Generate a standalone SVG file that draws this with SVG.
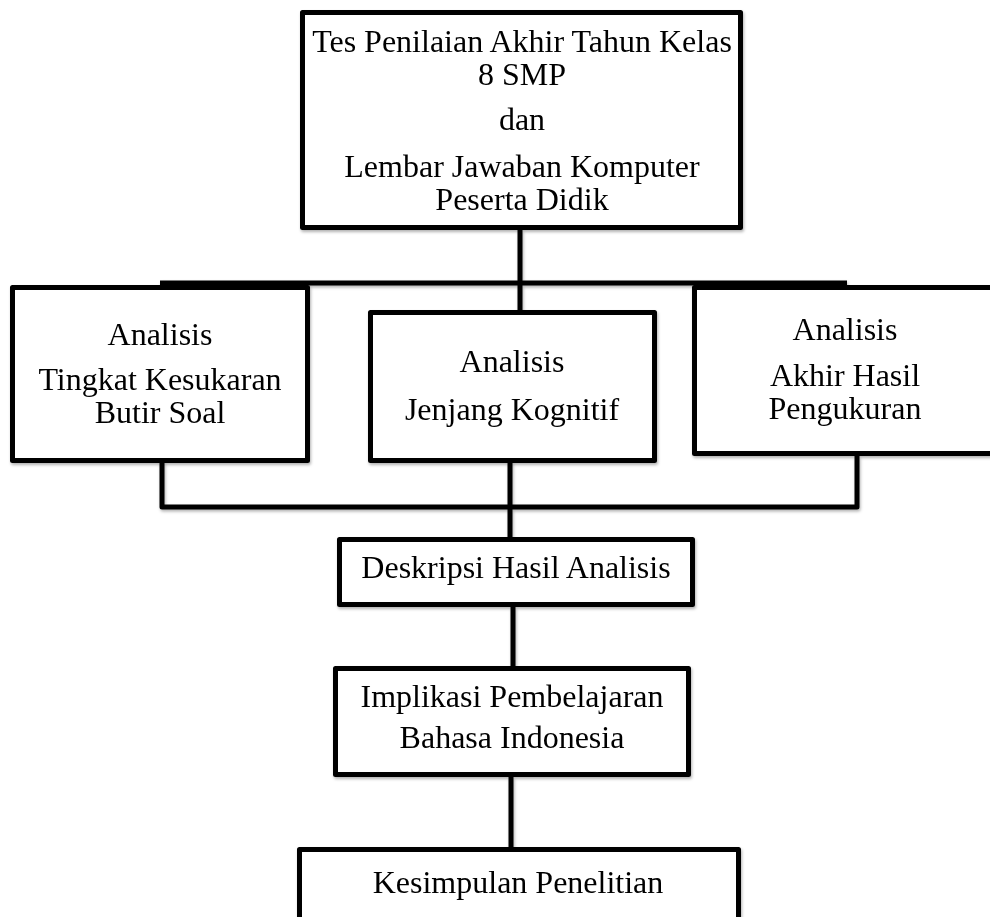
<svg xmlns="http://www.w3.org/2000/svg" width="990" height="917" viewBox="0 0 990 917">
<defs>
<filter id="sh" x="-10%" y="-10%" width="120%" height="130%">
<feDropShadow dx="1" dy="2" stdDeviation="1.5" flood-color="#000" flood-opacity="0.3"/>
</filter>
<style>
.box{fill:#fff;stroke:#000;stroke-width:5;stroke-linejoin:round}
.ln{fill:none;stroke:#000;stroke-width:5;stroke-linejoin:round}
text{font-family:"Liberation Serif","Times New Roman",serif;font-size:32px;fill:#000;text-anchor:middle}
</style>
</defs>
<rect width="990" height="917" fill="#fff"/>
<g id="connectors" filter="url(#sh)">
<path class="ln" d="M520,230 V312"/>
<path class="ln" d="M160,283 H847"/>
<path class="ln" d="M162,462 V507 H857 V456"/>
<path class="ln" d="M510,462 V539"/>
<path class="ln" d="M513,607 V668"/>
<path class="ln" d="M511,777 V849"/>
</g>
<g id="n-top" filter="url(#sh)">
<rect class="box" x="302.5" y="12.5" width="438" height="215"/>
<text x="522" y="52">Tes Penilaian Akhir Tahun Kelas</text>
<text x="522" y="85">8 SMP</text>
<text x="522" y="130">dan</text>
<text x="522" y="177">Lembar Jawaban Komputer</text>
<text x="522" y="210">Peserta Didik</text>
</g>
<g id="n-tingkat" filter="url(#sh)">
<rect class="box" x="12.5" y="287.5" width="295" height="173"/>
<text x="160" y="345">Analisis</text>
<text x="160" y="390">Tingkat Kesukaran</text>
<text x="160" y="423">Butir Soal</text>
</g>
<g id="n-jenjang" filter="url(#sh)">
<rect class="box" x="370.5" y="312.5" width="284" height="148"/>
<text x="512" y="372">Analisis</text>
<text x="512" y="420">Jenjang Kognitif</text>
</g>
<g id="n-akhir" filter="url(#sh)">
<rect class="box" x="694.5" y="287.5" width="300" height="166"/>
<text x="845" y="340">Analisis</text>
<text x="845" y="386">Akhir Hasil</text>
<text x="845" y="419">Pengukuran</text>
</g>
<g id="n-deskripsi" filter="url(#sh)">
<rect class="box" x="339.5" y="539.5" width="353" height="65"/>
<text x="516" y="578">Deskripsi Hasil Analisis</text>
</g>
<g id="n-implikasi" filter="url(#sh)">
<rect class="box" x="335.5" y="668.5" width="353" height="106"/>
<text x="512" y="707">Implikasi Pembelajaran</text>
<text x="512" y="748">Bahasa Indonesia</text>
</g>
<g id="n-kesimpulan" filter="url(#sh)">
<rect class="box" x="299.5" y="849.5" width="439" height="100"/>
<text x="518" y="893">Kesimpulan Penelitian</text>
</g>
</svg>
